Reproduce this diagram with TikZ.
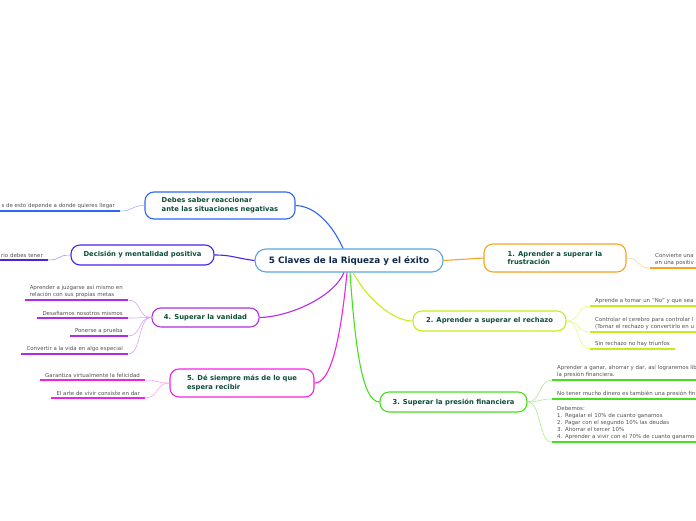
\documentclass[tikz,border=0pt]{standalone}
\usepackage{fontspec}
\setmainfont{DejaVu Sans}
\usepackage{tikz}
\usetikzlibrary{calc}

\definecolor{cencol}{HTML}{5AA6DC}
\definecolor{centxt}{HTML}{102A4C}
\definecolor{toptxt}{HTML}{0D4D3A}
\definecolor{leaftxt}{HTML}{505050}
\definecolor{debcol}{HTML}{2F66F2}
\definecolor{debtw}{HTML}{9AB4F7}
\definecolor{deccol}{HTML}{4B22E8}
\definecolor{dectw}{HTML}{A594F2}
\definecolor{vancol}{HTML}{B42BE6}
\definecolor{vantw}{HTML}{D9A4F2}
\definecolor{decol}{HTML}{F024DE}
\definecolor{detw}{HTML}{F7A6EE}
\definecolor{frucol}{HTML}{F7A41E}
\definecolor{frutw}{HTML}{FBD38E}
\definecolor{reccol}{HTML}{C5EC1C}
\definecolor{rectw}{HTML}{E5F78C}
\definecolor{precol}{HTML}{46E01E}
\definecolor{pretw}{HTML}{A6F08C}

\newcommand{\cenfont}{\fontsize{8.8}{10}\bfseries\selectfont}
\newcommand{\topfont}{\fontsize{6.8}{8.8}\bfseries\selectfont}
\newcommand{\leaffont}{\fontsize{5.45}{7}\selectfont}

\tikzset{
  topic/.style={draw=#1,fill=white,line width=1.1pt,rounded corners=9pt,
    font=\topfont,text=toptxt,align=left,inner xsep=12pt,inner ysep=3pt},
  leaf/.style={font=\leaffont,text=leaftxt,align=left,inner xsep=5pt,inner ysep=2pt},
  branch/.style={draw=#1,line width=1.1pt},
  twig/.style={draw=#1,line width=0.6pt},
  uline/.style={draw=#1,line width=1.8pt},
}

\begin{document}
\begin{tikzpicture}[x=1pt,y=-1pt]
        \useasboundingbox (0,0) rectangle (696,520);
        \clip (0,0) rectangle (696,520);
        % central topic
        \node[draw=cencol,fill=white,line width=1.1pt,rounded corners=11pt,
          font=\cenfont,text=centxt,minimum width=188,minimum height=23] (C) at (349,260.5)
          {5 Claves de la Riqueza y el éxito};
        % main topics
        \node[topic=debcol,minimum width=150,minimum height=27] (DEB) at (220,205.5)
          {Debes saber reaccionar\\ante las situaciones negativas};
        \node[topic=deccol,minimum width=143,minimum height=20] (DEC) at (142.5,255)
          {Decisión y mentalidad positiva};
        \node[topic=vancol,minimum width=107,minimum height=19] (VAN) at (205.5,317.5)
          {4. Superar la vanidad};
        \node[topic=decol,minimum width=144,minimum height=28] (DE) at (242,383)
          {5. Dé siempre más de lo que\\espera recibir};
        \node[topic=frucol,minimum width=142,minimum height=28] (FRU) at (555,258)
          {1. Aprender a superar la\\frustración};
        \node[topic=reccol,minimum width=153,minimum height=20] (REC) at (489.5,321)
          {2. Aprender a superar el rechazo};
        \node[topic=precol,minimum width=147,minimum height=20] (PRE) at (453.5,402)
          {3. Superar la presión financiera};
        % branches from the centre
        \path[branch=debcol] ([xshift=-6pt]C.north) .. controls (335,230) and (318,206) .. (DEB.east);
        \path[branch=deccol] (C.west) .. controls (235,258) and (232,255) .. (DEC.east);
        \path[branch=vancol] ([xshift=-5pt]C.south) .. controls (333,298) and (288,317) .. (VAN.east);
        \path[branch=decol] ([xshift=-2pt]C.south) .. controls (340,345) and (330,383) .. (DE.east);
        \path[branch=precol] ([xshift=1pt]C.south) .. controls (355,345) and (362,402) .. (PRE.west);
        \path[branch=reccol] ([xshift=4pt]C.south) .. controls (366,297) and (392,321) .. (REC.west);
        \path[branch=frucol] (C.east) -- (FRU.west);
        % leaves, left side
        \node[leaf,anchor=south east] (DEB1) at (120,211) {s de esto depende a donde quieres llegar};
        \node[leaf,anchor=south east] (DEC1) at (48,260) {rio debes tener};
        \node[leaf,anchor=south east] (VAN1) at (128,300) {Aprender a juzgarse así mismo en\\relación con sus propias metas};
        \node[leaf,anchor=south east] (VAN2) at (128,318) {Desafiarnos nosotros mismos};
        \node[leaf,anchor=south east] (VAN3) at (128,336) {Ponerse a prueba};
        \node[leaf,anchor=south east] (VAN4) at (128,354) {Convertir a la vida en algo especial};
        \node[leaf,anchor=south east] (DE1) at (145,380) {Garantiza virtualmente la felicidad};
        \node[leaf,anchor=south east] (DE2) at (145,398) {El arte de vivir consiste en dar};
        % leaves, right side
        \node[leaf,anchor=south west,text width=140] (FRU1) at (650,268) {Convierte una\\en una positiv};
        \node[leaf,anchor=south west,text width=140] (REC1) at (590,306) {Aprende a tomar un “No” y que sea};
        \node[leaf,anchor=south west,text width=140] (REC2) at (590,332) {Controlar el cerebro para controlar l\\(Tomar el rechazo y convertirlo en u};
        \node[leaf,anchor=south west] (REC3) at (590,349) {Sin rechazo no hay triunfos};
        \node[leaf,anchor=south west,text width=160] (PRE1) at (552,380) {Aprender a ganar, ahorrar y dar, así lograremos lib\\la presión financiera.};
        \node[leaf,anchor=south west,text width=160] (PRE2) at (552,399) {No tener mucho dinero es también una presión fin};
        \node[leaf,anchor=south west,text width=160] (PRE3) at (552,442) {Debemos:\\1. Regalar el 10\% de cuanto ganamos\\2. Pagar con el segundo 10\% las deudas\\3. Ahorrar el tercer 10\%\\4. Aprender a vivir con el 70\% de cuanto ganamo};
        % underlines
        \foreach \l/\c in {DEB1/debcol,DEC1/deccol,VAN1/vancol,VAN2/vancol,VAN3/vancol,VAN4/vancol,
          DE1/decol,DE2/decol,FRU1/frucol,REC1/reccol,REC2/reccol,REC3/reccol,
          PRE1/precol,PRE2/precol,PRE3/precol}
          \path[uline=\c] (\l.south west) -- (\l.south east);
        % twigs to the leaves
        \foreach \t/\l/\c in {DEB/DEB1/debtw,DEC/DEC1/dectw,VAN/VAN1/vantw,VAN/VAN2/vantw,
          VAN/VAN3/vantw,VAN/VAN4/vantw,DE/DE1/detw,DE/DE2/detw}
          \path[twig=\c] (\t.west) .. controls +(-14,0) and +(14,0) .. (\l.south east);
        \foreach \t/\l/\c in {FRU/FRU1/frutw,REC/REC1/rectw,REC/REC2/rectw,REC/REC3/rectw,
          PRE/PRE1/pretw,PRE/PRE2/pretw,PRE/PRE3/pretw}
          \path[twig=\c] (\t.east) .. controls +(14,0) and +(-14,0) .. (\l.south west);
      \end{tikzpicture}
\end{document}
